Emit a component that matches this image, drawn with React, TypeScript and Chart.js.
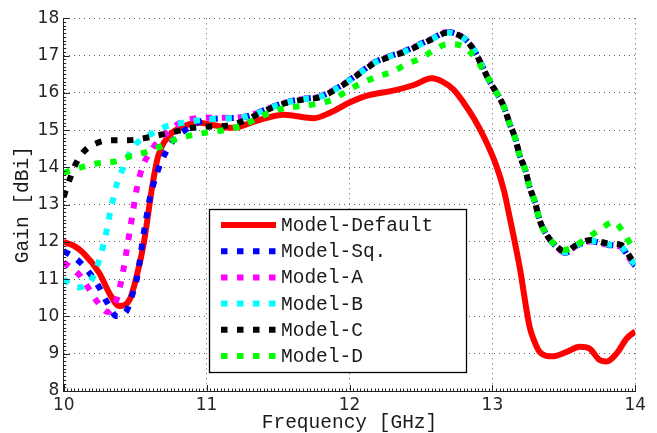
import React, { useEffect, useRef } from "react";
import { Chart, registerables } from "chart.js";

Chart.register(...registerables);

// ---------- data ----------
const xTickValues = [10, 11, 12, 13, 14];
const yTickValues = [8, 9, 10, 11, 12, 13, 14, 15, 16, 17, 18];

const seriesNames = ["Model-Default", "Model-Sq.", "Model-A", "Model-B", "Model-C", "Model-D"];
const seriesColors = ["#ff0000", "#0000ff", "#ff00ff", "#00ffff", "#000000", "#00ff00"];

const freqDefault = [10.0, 10.07, 10.14, 10.25, 10.32, 10.39, 10.46, 10.51, 10.56, 10.62, 10.66, 10.73, 10.83, 10.95, 11.05, 11.18, 11.35, 11.54, 11.75, 11.86, 12.0, 12.1, 12.33, 12.45, 12.575, 12.65, 12.73, 12.8, 12.87, 12.94, 13.03, 13.08, 13.12, 13.19, 13.26, 13.29, 13.33, 13.42, 13.52, 13.61, 13.68, 13.75, 13.8, 13.87, 13.94, 14.0];
const gainDefault = [12.0, 11.9, 11.69, 11.16, 10.62, 10.28, 10.44, 11.07, 11.96, 13.5, 14.29, 14.82, 15.09, 15.2, 15.13, 15.06, 15.25, 15.41, 15.32, 15.46, 15.74, 15.9, 16.08, 16.21, 16.39, 16.3, 16.08, 15.73, 15.32, 14.82, 14.02, 13.39, 12.68, 11.34, 9.73, 9.37, 9.05, 8.93, 9.05, 9.19, 9.14, 8.83, 8.79, 9.01, 9.41, 9.6];

const freqSq = [10.0, 10.03, 10.11, 10.18, 10.25, 10.3, 10.37, 10.44, 10.48, 10.51, 10.53, 10.56, 10.58, 10.6, 10.66, 10.76, 10.87, 10.97, 11.05, 11.15, 11.26, 11.36, 11.47, 11.57, 11.68, 11.79, 11.9, 11.99, 12.09, 12.17, 12.27, 12.38, 12.48, 12.59, 12.68, 12.79, 12.87, 12.93, 12.98, 13.03, 13.08, 13.12, 13.16, 13.19, 13.23, 13.26, 13.3, 13.33, 13.38, 13.43, 13.51, 13.59, 13.69, 13.81, 13.9, 13.97, 14.0];
const gainSq = [11.75, 11.69, 11.47, 11.17, 10.77, 10.4, 10.01, 10.15, 10.58, 10.98, 11.43, 12.23, 12.68, 13.12, 13.93, 14.69, 15.05, 15.25, 15.3, 15.32, 15.35, 15.47, 15.64, 15.76, 15.84, 15.9, 16.1, 16.32, 16.59, 16.81, 16.97, 17.11, 17.28, 17.48, 17.63, 17.5, 17.16, 16.71, 16.31, 16.0, 15.63, 15.18, 14.78, 14.33, 13.93, 13.48, 13.04, 12.59, 12.18, 11.94, 11.71, 11.9, 12.02, 11.92, 11.86, 11.5, 11.36];

const freqA = [10.0, 10.11, 10.17, 10.23, 10.31, 10.37, 10.42, 10.45, 10.48, 10.51, 10.55, 10.6, 10.65, 10.73, 10.83, 10.94, 11.05, 11.15, 11.26, 11.36, 11.47, 11.57, 11.68, 11.79, 11.9, 11.99, 12.09, 12.17, 12.27, 12.38, 12.48, 12.59, 12.68, 12.79, 12.87, 12.93, 12.98, 13.03, 13.08, 13.12, 13.16, 13.19, 13.23, 13.26, 13.3, 13.33, 13.38, 13.43, 13.51, 13.59, 13.69, 13.81, 13.9, 13.97, 14.0];
const gainA = [11.45, 11.11, 10.78, 10.42, 10.12, 10.45, 11.3, 12.0, 12.7, 13.4, 14.0, 14.38, 14.65, 14.96, 15.23, 15.32, 15.33, 15.33, 15.36, 15.47, 15.64, 15.76, 15.84, 15.9, 16.1, 16.32, 16.59, 16.81, 16.97, 17.11, 17.28, 17.48, 17.63, 17.5, 17.16, 16.71, 16.31, 16.0, 15.63, 15.18, 14.78, 14.33, 13.93, 13.48, 13.04, 12.59, 12.18, 11.94, 11.71, 11.9, 12.02, 11.92, 11.86, 11.5, 11.36];

const freqB = [10.0, 10.06, 10.11, 10.16, 10.2, 10.24, 10.27, 10.29, 10.31, 10.33, 10.35, 10.37, 10.41, 10.45, 10.51, 10.62, 10.71, 10.81, 10.92, 11.05, 11.15, 11.26, 11.36, 11.47, 11.57, 11.68, 11.79, 11.9, 11.99, 12.09, 12.17, 12.27, 12.38, 12.48, 12.59, 12.68, 12.79, 12.87, 12.93, 12.98, 13.03, 13.08, 13.12, 13.16, 13.19, 13.23, 13.26, 13.3, 13.33, 13.38, 13.43, 13.51, 13.59, 13.69, 13.81, 13.9, 13.97, 14.0];
const gainB = [11.0, 10.82, 10.78, 10.85, 11.02, 11.41, 11.8, 12.1, 12.5, 12.9, 13.2, 13.53, 13.93, 14.29, 14.65, 14.91, 15.09, 15.18, 15.25, 15.3, 15.32, 15.35, 15.46, 15.63, 15.75, 15.83, 15.89, 16.09, 16.31, 16.58, 16.8, 16.96, 17.1, 17.27, 17.47, 17.62, 17.5, 17.16, 16.71, 16.31, 16.0, 15.63, 15.18, 14.78, 14.33, 13.93, 13.48, 13.04, 12.59, 12.19, 11.95, 11.72, 11.91, 12.03, 11.93, 11.88, 11.52, 11.39];

const freqC = [10.0, 10.04, 10.08, 10.14, 10.23, 10.34, 10.45, 10.56, 10.67, 10.78, 10.88, 11.0, 11.14, 11.26, 11.36, 11.47, 11.57, 11.68, 11.79, 11.9, 11.99, 12.09, 12.17, 12.27, 12.38, 12.48, 12.59, 12.68, 12.79, 12.87, 12.93, 12.98, 13.03, 13.08, 13.12, 13.16, 13.19, 13.23, 13.26, 13.3, 13.33, 13.38, 13.43, 13.51, 13.59, 13.69, 13.81, 13.9, 13.97, 14.0];
const gainC = [13.21, 13.66, 14.06, 14.42, 14.65, 14.73, 14.73, 14.78, 14.87, 14.96, 15.05, 15.09, 15.12, 15.25, 15.43, 15.62, 15.74, 15.82, 15.88, 16.08, 16.3, 16.57, 16.79, 16.95, 17.09, 17.26, 17.46, 17.61, 17.49, 17.15, 16.7, 16.3, 16.0, 15.63, 15.18, 14.78, 14.33, 13.93, 13.48, 13.04, 12.59, 12.19, 11.96, 11.74, 11.92, 12.05, 11.96, 11.92, 11.56, 11.43];

const freqD = [10.0, 10.02, 10.14, 10.24, 10.35, 10.46, 10.57, 10.67, 10.77, 10.88, 10.99, 11.15, 11.26, 11.36, 11.47, 11.57, 11.68, 11.79, 11.89, 11.98, 12.09, 12.19, 12.3, 12.4, 12.51, 12.6, 12.69, 12.8, 12.88, 12.95, 13.03, 13.08, 13.12, 13.16, 13.19, 13.23, 13.26, 13.3, 13.33, 13.38, 13.43, 13.5, 13.59, 13.66, 13.75, 13.85, 13.92, 13.98, 14.0];
const gainD = [13.85, 13.88, 14.02, 14.11, 14.15, 14.29, 14.4, 14.55, 14.73, 14.85, 14.93, 15.02, 15.14, 15.33, 15.51, 15.61, 15.65, 15.72, 15.83, 16.05, 16.27, 16.43, 16.57, 16.77, 16.95, 17.17, 17.31, 17.24, 16.93, 16.52, 16.0, 15.63, 15.18, 14.78, 14.33, 13.93, 13.48, 13.04, 12.59, 12.19, 11.96, 11.78, 11.92, 12.1, 12.32, 12.54, 12.23, 11.87, 11.8];

const seriesFreqs = [freqDefault, freqSq, freqA, freqB, freqC, freqD];
const seriesGains = [gainDefault, gainSq, gainA, gainB, gainC, gainD];

// ---------- helpers ----------
const monoFont = "'Liberation Mono', 'DejaVu Sans Mono', monospace";
const tickFont = "'DejaVu Sans', sans-serif";
const DOT_DASH = [6.5, 9.5];

const axisTicksPlugin = {
  id: "axisTicks",
  afterDraw(chart: any) {
    const { ctx, chartArea: ca } = chart;
    const xs = chart.scales.x;
    const ys = chart.scales.y;
    ctx.save();
    ctx.strokeStyle = "#222";
    ctx.lineWidth = 1;
    ctx.setLineDash([]);
    ctx.beginPath();
    for (let i = 0; i <= 160; i++) {
      const v = xs.min + (i * (xs.max - xs.min)) / 160;
      const px = Math.round(xs.getPixelForValue(v)) + 0.5;
      const len = i % 40 === 0 ? 6 : 2.5;
      ctx.moveTo(px, ca.bottom);
      ctx.lineTo(px, ca.bottom - len);
    }
    for (let i = 0; i <= 100; i++) {
      const v = ys.min + (i * (ys.max - ys.min)) / 100;
      const py = Math.round(ys.getPixelForValue(v)) + 0.5;
      const len = i % 10 === 0 ? 6 : 2.5;
      ctx.moveTo(ca.left, py);
      ctx.lineTo(ca.left + len, py);
    }
    ctx.stroke();
    ctx.restore();
  },
};

const boxLegendPlugin = {
  id: "boxLegend",
  afterDatasetsDraw(chart: any) {
    const { ctx, chartArea: ca } = chart;
    const x0 = Math.round(ca.left + 145.6) + 0.5;
    const y0 = Math.round(ca.top + 191) + 0.5;
    const w = 257;
    const h = 163;
    ctx.save();
    ctx.fillStyle = "#ffffff";
    ctx.fillRect(x0, y0, w, h);
    ctx.setLineDash([]);
    ctx.strokeStyle = "#000000";
    ctx.lineWidth = 1.3;
    ctx.strokeRect(x0, y0, w, h);
    chart.data.datasets.forEach((ds: any, i: number) => {
      const yb = y0 + 21.5 + i * 26.2;
      const ym = yb - 6;
      ctx.beginPath();
      ctx.setLineDash(ds.borderDash || []);
      ctx.lineDashOffset = 0;
      ctx.lineCap = "butt";
      ctx.strokeStyle = ds.borderColor;
      ctx.lineWidth = ds.borderWidth;
      ctx.moveTo(x0 + 11.5, ym);
      ctx.lineTo(x0 + 66.5, ym);
      ctx.stroke();
      ctx.setLineDash([]);
      ctx.fillStyle = "#1a1a1a";
      ctx.font = `19.5px ${monoFont}`;
      ctx.textAlign = "left";
      ctx.textBaseline = "alphabetic";
      ctx.fillText(ds.label, x0 + 71.5, yb);
    });
    ctx.restore();
  },
};

export default function App() {
  const canvasRef = useRef<HTMLCanvasElement | null>(null);

  useEffect(() => {
    const canvas = canvasRef.current;
    if (!canvas) return;
    const datasets = seriesNames.map((name, i) => ({
      label: name,
      data: seriesFreqs[i].map((f, j) => ({ x: f, y: seriesGains[i][j] })),
      borderColor: seriesColors[i],
      backgroundColor: seriesColors[i],
      borderWidth: 6,
      borderDash: i === 0 ? [] : DOT_DASH,
      borderCapStyle: "butt" as const,
      borderJoinStyle: "round" as const,
      pointRadius: 0,
      fill: false,
      cubicInterpolationMode: "monotone" as const,
      tension: 0.4,
      order: seriesNames.length - i,
    }));

    const chart = new Chart(canvas, {
      type: "line",
      data: { datasets },
      plugins: [axisTicksPlugin, boxLegendPlugin],
      options: {
        animation: false,
        responsive: false,
        maintainAspectRatio: false,
        devicePixelRatio: 1,
        layout: { padding: { top: 18.3, right: 21.7, left: 0, bottom: 0 } },
        plugins: { legend: { display: false }, tooltip: { enabled: false } },
        scales: {
          x: {
            type: "linear",
            min: 10,
            max: 14,
            afterFit: (s: any) => {
              s.height = 42;
            },
            afterBuildTicks: (s: any) => {
              s.ticks = xTickValues.map((v) => ({ value: v }));
            },
            ticks: {
              padding: 4,
              color: "#262626",
              font: { family: tickFont, size: 17 },
              maxRotation: 0,
              autoSkip: false,
            },
            grid: {
              drawTicks: false,
              color: "#606060",
              lineWidth: 1,
            },
            border: { display: true, color: "#222", width: 1, dash: [1, 4] },
            title: {
              display: true,
              text: "Frequency [GHz]",
              color: "#1a1a1a",
              font: { family: monoFont, size: 19.5, lineHeight: 1 },
              padding: { top: 0, bottom: 0.5 },
            },
          },
          y: {
            type: "linear",
            min: 8,
            max: 18,
            afterFit: (s: any) => {
              s.width = 63.7;
            },
            afterBuildTicks: (s: any) => {
              s.ticks = yTickValues.map((v) => ({ value: v }));
            },
            ticks: {
              padding: 4.5,
              color: "#262626",
              font: { family: tickFont, size: 17 },
              autoSkip: false,
            },
            grid: {
              drawTicks: false,
              color: "#606060",
              lineWidth: 1,
            },
            border: { display: true, color: "#222", width: 1, dash: [1, 4] },
            title: {
              display: true,
              text: "Gain [dBi]",
              color: "#1a1a1a",
              font: { family: monoFont, size: 19.5, lineHeight: 1 },
              padding: { top: 13.25, bottom: 0 },
            },
          },
        },
      },
    });
    return () => chart.destroy();
  }, []);

  return (
    <div style={{ position: "fixed", left: 0, top: 0, width: 657, height: 433, background: "#fff" }}>
      <canvas ref={canvasRef} width={657} height={433} style={{ display: "block" }} />
    </div>
  );
}
